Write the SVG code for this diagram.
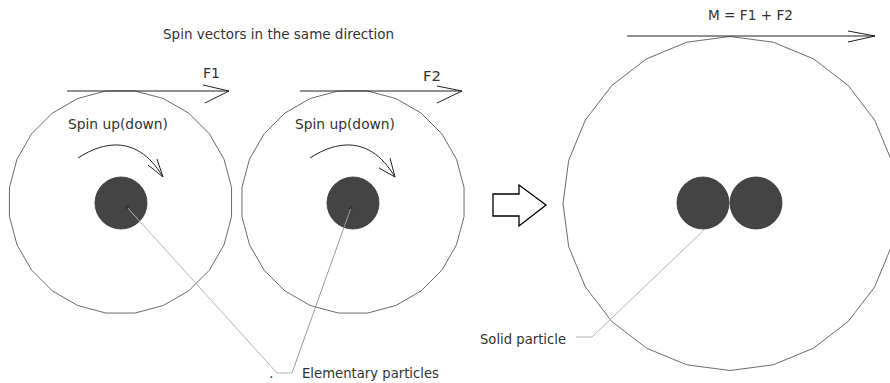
<svg xmlns="http://www.w3.org/2000/svg" xmlns:xlink="http://www.w3.org/1999/xlink" width="890" height="383" viewBox="0 0 890 383">
<style>
  .ring { fill: none; stroke: #444; stroke-width: 0.8; }
  .core { fill: #444; stroke: #333; stroke-width: 0.8; }
  .vec { fill: none; stroke: #222; stroke-width: 1; }
  .lead { fill: none; stroke: #b4b4b4; stroke-width: 1; }
  .lead2 { fill: none; stroke: #999; stroke-width: 1; }
  .t { font-family: "DejaVu Sans", Verdana, sans-serif; font-size: 14.5px; fill: #333; }
  .big { fill: #fff; stroke: #000; stroke-width: 1.3; }
</style>
<defs>
  <polygon id="ring" class="ring" points="111.04,14.62 103.47,42.86 88.86,68.18 68.18,88.86 42.86,103.47 14.62,111.04 -14.62,111.04 -42.86,103.47 -68.18,88.86 -88.86,68.18 -103.47,42.86 -111.04,14.62 -111.04,-14.62 -103.47,-42.86 -88.86,-68.18 -68.18,-88.86 -42.86,-103.47 -14.62,-111.04 14.62,-111.04 42.86,-103.47 68.18,-88.86 88.86,-68.18 103.47,-42.86 111.04,-14.62"/>
  <marker id="tip" viewBox="0 0 10 10" refX="9" refY="5" markerWidth="5" markerHeight="5" orient="auto-start-reverse" markerUnits="userSpaceOnUse">
    <path d="M0,0 L10,5 L0,10 z" fill="#333"/>
  </marker>
</defs>

<text class="t" x="163" y="39" textLength="231" lengthAdjust="spacingAndGlyphs">Spin vectors in the same direction</text>

<g id="particle1">
  <use xlink:href="#ring" href="#ring" x="120.5" y="202"/>
  <circle class="core" cx="121" cy="203" r="26"/>
  <text class="t" x="68" y="129" textLength="100" lengthAdjust="spacingAndGlyphs">Spin up(down)</text>
  <path class="vec" d="M78,158 C98,145 135,130 163,177 M163,177 L157,159 M163,177 L148,165"/>
</g>

<g id="particle2">
  <use xlink:href="#ring" href="#ring" x="353" y="202"/>
  <circle class="core" cx="353" cy="203" r="26"/>
  <text class="t" x="295" y="129" textLength="100" lengthAdjust="spacingAndGlyphs">Spin up(down)</text>
  <path class="vec" d="M310,158 C330,145 367,130 395,177 M395,177 L390,158 M395,177 L379,168"/>
</g>

<g id="vectorF1">
  <path class="vec" d="M67,91 L229,91 M203,85 L229,91 L205,103"/>
  <text class="t" x="203" y="78" textLength="17" lengthAdjust="spacingAndGlyphs">F1</text>
</g>

<g id="vectorF2">
  <path class="vec" d="M300,91 L462,91 M437,86 L462,91 L437,103"/>
  <text class="t" x="423" y="81" textLength="18" lengthAdjust="spacingAndGlyphs">F2</text>
</g>

<g id="transition">
  <polygon class="big" points="493,194 519,194 519,185 546,205 519,226 519,216 493,216"/>
</g>

<g id="solid">
  <polygon class="ring" points="897,203.5 891.31,246.72 874.63,287 848.09,321.59 813.5,348.13 773.22,364.81 730,370.5 686.78,364.81 646.5,348.13 611.91,321.59 585.37,287 568.69,246.72 563,203.5 568.69,160.28 585.37,120 611.91,85.41 646.5,58.87 686.78,42.19 730,36.5 773.22,42.19 813.5,58.87 848.09,85.41 874.63,120 891.31,160.28"/>
  <circle class="core" cx="703" cy="203" r="26"/>
  <circle class="core" cx="756" cy="203" r="26"/>
</g>

<g id="vectorM">
  <path class="vec" d="M627,36 L875,36 M848,31 L875,36 L848,42"/>
  <text class="t" x="708" y="20" textLength="85" lengthAdjust="spacingAndGlyphs">M = F1 + F2</text>
</g>

<g id="labels">
  <text class="t" x="302" y="378" textLength="137" lengthAdjust="spacingAndGlyphs">Elementary particles</text>
  <text class="t" x="269" y="378" fill="#333">.</text>
  <text class="t" x="480" y="344" textLength="86" lengthAdjust="spacingAndGlyphs">Solid particle</text>
</g>

<g id="connectors">
  <path class="lead" d="M292,373 L277,373 L125,205" marker-end="url(#tip)"/>
  <path class="lead2" d="M292,373 L352,205" marker-end="url(#tip)"/>
  <path class="lead" d="M576,337 L592,337 L705,229"/>
</g>
</svg>
